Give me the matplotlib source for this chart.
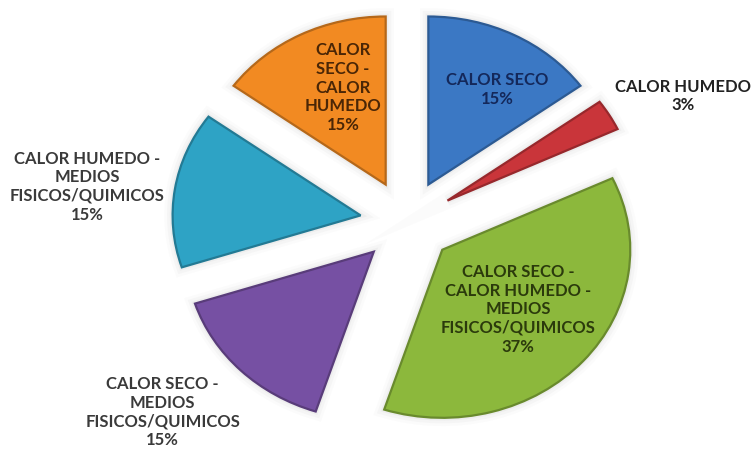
import matplotlib.pyplot as plt
from matplotlib.colors import to_rgb

plt.rcParams['font.family'] = ['Lato', 'DejaVu Sans']

categories = [
    "CALOR SECO",
    "CALOR HUMEDO",
    "CALOR SECO -\nCALOR HUMEDO -\nMEDIOS\nFISICOS/QUIMICOS",
    "CALOR SECO -\nMEDIOS\nFISICOS/QUIMICOS",
    "CALOR HUMEDO -\nMEDIOS\nFISICOS/QUIMICOS",
    "CALOR\nSECO -\nCALOR\nHUMEDO",
]
percent = [15, 3, 37, 15, 15, 15]

colors = ["#3b78c4", "#c9353a", "#8cb83c", "#7650a3", "#2ea3c5", "#f28a22"]
text_colors = ["#14285a", "#222222", "#2b3a0c", "#3a3a3a", "#3a3a3a", "#4a2606"]
# label anchor points in axis units (pie radius = 1)
label_xy = [(0.48, 0.79), (1.47, 0.75), (0.59, -0.52),
            (-1.30, -1.13), (-1.70, 0.21), (-0.34, 0.80)]


def darker(c, f=0.7):
    r, g, b = to_rgb(c)
    return (r * f, g * f, b * f)


fig = plt.figure(figsize=(7.55, 4.49), dpi=100)
ax = fig.add_axes([0, 0, 1, 1])

# soft halo behind the slices
for lw, a in [(12, 0.025), (8, 0.035), (4, 0.05)]:
    ax.pie(percent, startangle=90, counterclock=False,
           explode=[0.25] * len(percent),
           colors=["none"] * len(percent),
           wedgeprops=dict(edgecolor="#666666", linewidth=lw, alpha=a))

wedges, _ = ax.pie(percent, startangle=90, counterclock=False,
                   explode=[0.25] * len(percent), colors=colors,
                   wedgeprops=dict(linewidth=0))
for w, c in zip(wedges, colors):
    w.set_edgecolor(darker(c, 0.75))
    w.set_linewidth(1.6)

for name, p, (x, y), tc in zip(categories, percent, label_xy, text_colors):
    ax.text(x, y, f"{name}\n{p}%", ha="center", va="center",
            fontsize=12, fontweight="bold", color=tc, linespacing=1.2)

ax.set_aspect("auto")
ax.set_xlim(-2.165, 1.851)
ax.set_ylim(-1.351, 1.321)
ax.axis("off")

fig.savefig("out.png", dpi=100)
